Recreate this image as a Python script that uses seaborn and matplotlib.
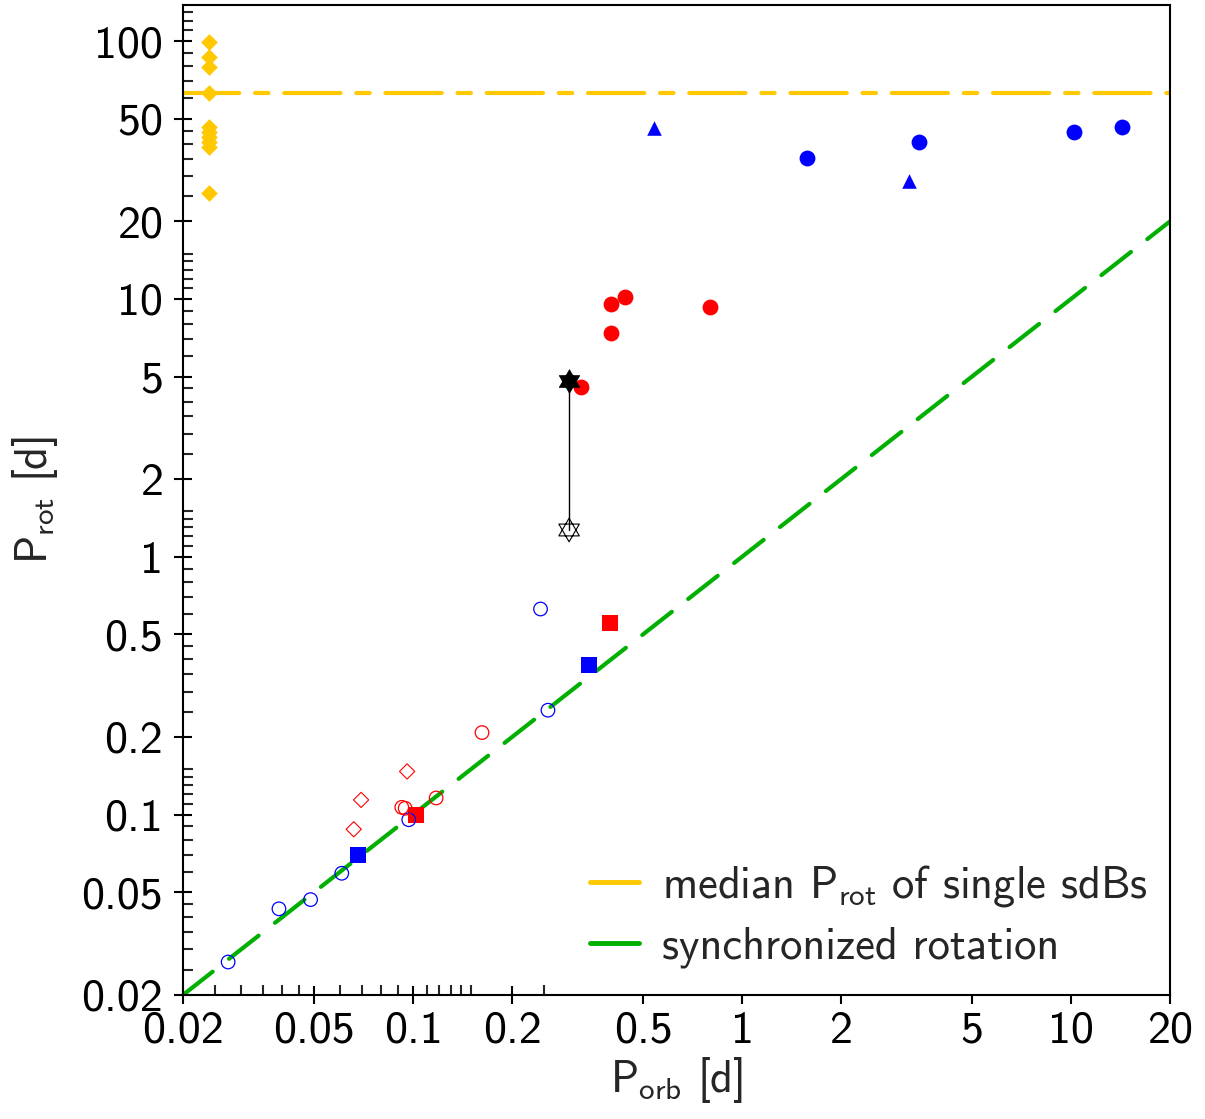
import numpy as np
import pandas as pd
import matplotlib
matplotlib.use("Agg")
import matplotlib.pyplot as plt
from matplotlib.path import Path
from matplotlib.lines import Line2D
from matplotlib.ticker import FixedLocator, NullFormatter, FuncFormatter
import seaborn as sns

# ---------------- data ----------------
single_x = [0.024] * 10
single_y = [99, 87, 79.5, 62.7, 46.5, 44.5, 42.5, 40.5, 39.0, 25.8]
median_single = 63.0

blue_fill_circ_x = [1.58, 3.44, 10.2, 14.3]
blue_fill_circ_y = [35.2, 40.7, 44.4, 46.3]

blue_tri_x = [0.54, 3.22]
blue_tri_y = [46.0, 28.7]

red_fill_circ_x = [0.40, 0.442, 0.40, 0.80, 0.323]
red_fill_circ_y = [9.56, 10.2, 7.38, 9.33, 4.57]

star_x = [0.298]
star_fill_y = [4.81]
star_open_y = [1.27]

red_sq_x = [0.398, 0.1024]
red_sq_y = [0.551, 0.0997]

blue_sq_x = [0.342, 0.0682]
blue_sq_y = [0.379, 0.070]

blue_open_circ_x = [0.0274, 0.0391, 0.0488, 0.0607, 0.097, 0.244, 0.257]
blue_open_circ_y = [0.0268, 0.0431, 0.0468, 0.0592, 0.0955, 0.627, 0.254]

red_open_circ_x = [0.0924, 0.0946, 0.1175, 0.162]
red_open_circ_y = [0.1067, 0.1058, 0.116, 0.208]

red_open_dia_x = [0.066, 0.0695, 0.0959]
red_open_dia_y = [0.0877, 0.114, 0.147]

sync_x = [0.02, 20]
sync_y = [0.02, 20]

major_ticks = [0.02, 0.05, 0.1, 0.2, 0.5, 1, 2, 5, 10, 20, 50, 100]
minor_mult = [1.1, 1.2, 1.3, 1.4, 1.5, 2.5, 3, 3.5, 4, 4.5, 6, 7, 8, 9]

# ---------------- style ----------------
sns.set_theme(style="ticks")
plt.rcParams["font.family"] = ["cmss10", "DejaVu Sans"]
plt.rcParams["axes.unicode_minus"] = False
plt.rcParams["mathtext.fontset"] = "custom"
plt.rcParams["mathtext.rm"] = "cmss10"

YELLOW = "#ffc800"
GREEN = "#00b000"
BLUE = "#0000ff"
RED = "#ff0000"
FS_TICK = 33
FS_LAB = 32
FS_LEG = 32

fig = plt.figure(figsize=(12.05, 11.19), dpi=100)
ax = fig.add_axes([0.152, 0.111, 0.971 - 0.152, 0.9955 - 0.111])
ax.set_xscale("log")
ax.set_yscale("log")

# hexagram marker
ang1 = np.deg2rad([90, 210, 330])
ang2 = np.deg2rad([270, 30, 150])
verts = []
codes = []
for ang in (ang1, ang2):
    pts = list(zip(np.cos(ang), np.sin(ang)))
    verts += pts + [pts[0]]
    codes += [Path.MOVETO, Path.LINETO, Path.LINETO, Path.CLOSEPOLY]
hexagram = Path(verts, codes)

# lines
ax.axhline(median_single, color=YELLOW, lw=3, dash_capstyle="round",
           linestyle=(0, (13.5, 3.8, 3.2, 3.8)), zorder=1)
sns.lineplot(x=sync_x, y=sync_y, ax=ax, color=GREEN, lw=3,
             linestyle=(0, (9.0, 5.0)), dash_capstyle="round", zorder=1)

# points
sns.scatterplot(x=single_x, y=single_y, ax=ax, marker="D", s=72,
                color=YELLOW, edgecolor=YELLOW, linewidth=0, zorder=3)
sns.scatterplot(x=blue_fill_circ_x, y=blue_fill_circ_y, ax=ax, marker="o",
                s=130, color=BLUE, edgecolor=BLUE, linewidth=0, zorder=3)
sns.scatterplot(x=blue_tri_x, y=blue_tri_y, ax=ax, marker="^", s=110,
                color=BLUE, edgecolor=BLUE, linewidth=0, zorder=3)
sns.scatterplot(x=red_fill_circ_x, y=red_fill_circ_y, ax=ax, marker="o",
                s=130, color=RED, edgecolor=RED, linewidth=0, zorder=3)
sns.scatterplot(x=red_sq_x, y=red_sq_y, ax=ax, marker="s", s=135,
                color=RED, edgecolor=RED, linewidth=0, zorder=3)
sns.scatterplot(x=blue_sq_x, y=blue_sq_y, ax=ax, marker="s", s=135,
                color=BLUE, edgecolor=BLUE, linewidth=0, zorder=3)
sns.scatterplot(x=blue_open_circ_x, y=blue_open_circ_y, ax=ax, marker="o",
                s=95, facecolors="none", edgecolors=BLUE, linewidth=0.9, zorder=3)
sns.scatterplot(x=red_open_circ_x, y=red_open_circ_y, ax=ax, marker="o",
                s=95, facecolors="none", edgecolors=RED, linewidth=0.9, zorder=3)
sns.scatterplot(x=red_open_dia_x, y=red_open_dia_y, ax=ax, marker="D",
                s=60, facecolors="none", edgecolors=RED, linewidth=0.8, zorder=3)

# star pair with connecting line
ax.plot([star_x[0], star_x[0]], [star_fill_y[0], star_open_y[0]], color="black",
        lw=1.0, zorder=4)
sns.scatterplot(x=star_x, y=star_fill_y, ax=ax, marker=hexagram, s=290,
                color="black", edgecolor="black", linewidth=0.5, zorder=5)
sns.scatterplot(x=star_x, y=star_open_y, ax=ax, marker=hexagram, s=290,
                facecolors="none", edgecolors="black", linewidth=0.8, zorder=5)

# axes
ax.set_xlim(0.02, 20)
ax.set_ylim(0.02, 138)

minor = sorted({round(m * 10.0 ** e, 6) for e in range(-2, 3) for m in minor_mult})
fmt = FuncFormatter(lambda v, p: "%g" % v)
for axis in (ax.xaxis, ax.yaxis):
    axis.set_major_locator(FixedLocator(major_ticks))
    axis.set_minor_locator(FixedLocator(minor))
    axis.set_major_formatter(fmt)
    axis.set_minor_formatter(NullFormatter())

ax.tick_params(which="major", direction="inout", length=13, width=1.5,
               labelsize=FS_TICK, pad=5, colors="black")
ax.tick_params(which="minor", direction="in", length=7, width=1.5)
ax.tick_params(axis="y", which="major", pad=8)
for sp in ax.spines.values():
    sp.set_linewidth(1.5)
    sp.set_color("black")
    sp.set_visible(True)
    sp.set_zorder(7)

ax.set_xlabel(r"P$_\mathregular{orb}$ [d]", fontsize=FS_LAB, labelpad=2)
ax.set_ylabel(r"P$_\mathregular{rot}$ [d]", fontsize=FS_LAB, labelpad=15)

handles = [Line2D([], [], color=YELLOW, lw=3.5),
           Line2D([], [], color=GREEN, lw=3.5)]
labels = [r"median P$_\mathregular{rot}$ of single sdBs", "synchronized rotation"]
leg = ax.legend(handles, labels, loc="lower right", bbox_to_anchor=(1.004, 0),
                borderaxespad=0, frameon=True, fontsize=FS_LEG, handlelength=1.1,
                handletextpad=0.5, labelspacing=0.4, borderpad=0.6)
leg.set_zorder(5)
leg.get_frame().set_edgecolor("none")
leg.get_frame().set_facecolor("white")
leg.get_frame().set_alpha(1)

fig.savefig("out.png", dpi=100)
